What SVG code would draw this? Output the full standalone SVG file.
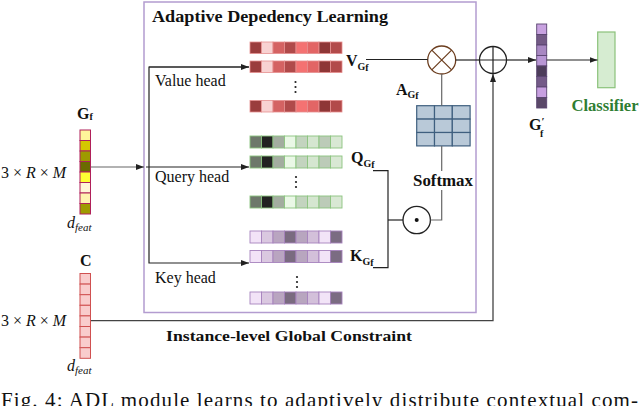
<svg xmlns="http://www.w3.org/2000/svg" width="640" height="406" viewBox="0 0 640 406" font-family="'Liberation Serif','Times New Roman',serif">
<style>
text{font-family:"Liberation Serif","Times New Roman",serif;fill:#111}
.b{font-weight:bold}
.l16{font-size:16px}
.sub{font-size:10px;font-weight:bold}
.it{font-style:italic}
.ln{fill:none;stroke:#222;stroke-width:1.2}
.gl{fill:none;stroke:#666;stroke-width:1.2}
.dot{fill:#222}
</style>
<defs>
<marker id="ar" viewBox="0 0 8 6" refX="8" refY="3" markerWidth="8" markerHeight="6" orient="auto" markerUnits="userSpaceOnUse"><path d="M0,0 L8,3 L0,6 z" fill="#222"/></marker>
<g id="vbar" stroke="#e58f8f" stroke-width="0.8">
<rect x="0" y="0" width="11.5" height="11.5" fill="#9a3d3d"/>
<rect x="11.5" y="0" width="11.5" height="11.5" fill="#f8d2d2"/>
<rect x="23" y="0" width="11.5" height="11.5" fill="#d46262"/>
<rect x="34.5" y="0" width="11.5" height="11.5" fill="#b04a4a"/>
<rect x="46" y="0" width="11.5" height="11.5" fill="#f47272"/>
<rect x="57.5" y="0" width="11.5" height="11.5" fill="#e26565"/>
<rect x="69" y="0" width="11.5" height="11.5" fill="#8e3636"/>
<rect x="80.5" y="0" width="11.5" height="11.5" fill="#b24a4a"/>
</g>
<g id="qbar" stroke="#8cc47f" stroke-width="0.9">
<rect x="0" y="0" width="11.5" height="12" fill="#6e786b"/>
<rect x="11.5" y="0" width="11.5" height="12" fill="#222222"/>
<rect x="23" y="0" width="11.5" height="12" fill="#a3ada0"/>
<rect x="34.5" y="0" width="11.5" height="12" fill="#eaf8e6"/>
<rect x="46" y="0" width="11.5" height="12" fill="#c3d4bf"/>
<rect x="57.5" y="0" width="11.5" height="12" fill="#d5e6d0"/>
<rect x="69" y="0" width="11.5" height="12" fill="#bccbb8"/>
<rect x="80.5" y="0" width="11.5" height="12" fill="#d9e8d4"/>
</g>
<g id="kbar" stroke="#a683bd" stroke-width="0.9">
<rect x="0" y="0" width="11.5" height="12" fill="#f2e3f7"/>
<rect x="11.5" y="0" width="11.5" height="12" fill="#dac8e0"/>
<rect x="23" y="0" width="11.5" height="12" fill="#b9a5c0"/>
<rect x="34.5" y="0" width="11.5" height="12" fill="#7a6b80"/>
<rect x="46" y="0" width="11.5" height="12" fill="#b8a6bf"/>
<rect x="57.5" y="0" width="11.5" height="12" fill="#d3c0da"/>
<rect x="69" y="0" width="11.5" height="12" fill="#f2e4f7"/>
<rect x="80.5" y="0" width="11.5" height="12" fill="#7b6c82"/>
</g>
<g id="vdots" class="dot"><circle cx="0" cy="0" r="1.1"/><circle cx="0" cy="5" r="1.1"/><circle cx="0" cy="10" r="1.1"/></g>
</defs>

<rect width="640" height="406" fill="#ffffff"/>

<!-- ADL module box -->
<g id="adl-box">
<rect x="144" y="2" width="332" height="310.5" fill="none" stroke="#b39cd0" stroke-width="1.5"/>
<text x="152" y="22" class="b" font-size="16" textLength="236" lengthAdjust="spacingAndGlyphs">Adaptive Depedency Learning</text>
</g>

<!-- Input G_f -->
<g id="node-Gf">
<text x="77" y="119" class="b l16">G<tspan class="sub" font-size="11" dy="1">f</tspan></text>
<g stroke="#b0205a" stroke-width="1">
<rect x="80" y="130" width="10.5" height="10.5" fill="#fff59a"/>
<rect x="80" y="140.5" width="10.5" height="10.5" fill="#d4c800"/>
<rect x="80" y="151" width="10.5" height="10.5" fill="#9e9a00"/>
<rect x="80" y="161.5" width="10.5" height="10.5" fill="#6b6b00"/>
<rect x="80" y="172" width="10.5" height="10.5" fill="#ffff33"/>
<rect x="80" y="182.5" width="10.5" height="10.5" fill="#fff5d8"/>
<rect x="80" y="193" width="10.5" height="10.5" fill="#fff2b0"/>
<rect x="80" y="203.5" width="10.5" height="10.5" fill="#9e9b00"/>
</g>
<text x="1" y="178" class="l16">3 × <tspan class="it">R</tspan> × <tspan class="it">M</tspan></text>
<text x="67" y="228" class="l16 it">d<tspan font-size="11" dy="3">feat</tspan></text>
</g>

<!-- Input C -->
<g id="node-C">
<text x="80" y="266" class="b l16">C</text>
<g stroke="#d05050" stroke-width="1" fill="#f9cccc">
<rect x="80" y="273.5" width="10.5" height="10.6"/>
<rect x="80" y="284.1" width="10.5" height="10.6"/>
<rect x="80" y="294.7" width="10.5" height="10.6"/>
<rect x="80" y="305.3" width="10.5" height="10.6"/>
<rect x="80" y="315.9" width="10.5" height="10.6"/>
<rect x="80" y="326.5" width="10.5" height="10.6"/>
<rect x="80" y="337.1" width="10.5" height="10.6"/>
<rect x="80" y="347.7" width="10.5" height="10.6"/>
</g>
<text x="1" y="326" class="l16">3 × <tspan class="it">R</tspan> × <tspan class="it">M</tspan></text>
<text x="67" y="371" class="l16 it">d<tspan font-size="11" dy="3">feat</tspan></text>
</g>

<!-- Value head -->
<g id="node-value">
<use href="#vbar" x="250" y="42"/>
<use href="#vbar" x="250" y="61"/>
<use href="#vdots" x="295.5" y="82"/>
<use href="#vbar" x="250" y="100.5"/>
<text x="155" y="86" class="l16">Value head</text>
<text x="346" y="66" class="b l16">V<tspan class="sub" dy="4">G</tspan><tspan class="sub" font-size="7" dy="1">f</tspan></text>
</g>

<!-- Query head -->
<g id="node-query">
<use href="#qbar" x="250" y="136"/>
<use href="#qbar" x="250" y="156"/>
<use href="#vdots" x="296" y="177"/>
<use href="#qbar" x="250" y="196"/>
<text x="155" y="182" class="l16">Query head</text>
<text x="351" y="163" class="b l16">Q<tspan class="sub" dy="4">G</tspan><tspan class="sub" font-size="7" dy="1">f</tspan></text>
</g>

<!-- Key head -->
<g id="node-key">
<use href="#kbar" x="250" y="231"/>
<use href="#kbar" x="250" y="250.5"/>
<use href="#vdots" x="297" y="277"/>
<use href="#kbar" x="250" y="292"/>
<text x="155" y="283" class="l16">Key head</text>
<text x="350" y="261" class="b l16">K<tspan class="sub" dy="4">G</tspan><tspan class="sub" font-size="7" dy="1">f</tspan></text>
</g>

<!-- Operators -->
<g id="node-mul">
<circle cx="441.7" cy="60" r="14" fill="#fff" stroke="#6b3d1e" stroke-width="1.3"/>
<path d="M431.8,50.1 L451.6,69.9 M451.6,50.1 L431.8,69.9" stroke="#6b3d1e" stroke-width="1.2"/>
</g>
<g id="node-add">
<circle cx="493" cy="60" r="13.5" fill="#fff" stroke="#222" stroke-width="1.3"/>
<path d="M479.5,60 H506.5 M493,46.5 V73.5" stroke="#222" stroke-width="1.2"/>
</g>
<g id="node-dot">
<circle cx="416.7" cy="220" r="13.7" fill="#fff" stroke="#222" stroke-width="1.3"/>
<circle cx="416.7" cy="220" r="2" fill="#111"/>
</g>

<!-- Attention matrix -->
<g id="node-A">
<g fill="#b9c9d8" stroke="#3f5f7f" stroke-width="1.2">
<rect x="416.7" y="105.7" width="17.8" height="13.4"/>
<rect x="434.5" y="105.7" width="17.8" height="13.4"/>
<rect x="452.3" y="105.7" width="17.8" height="13.4"/>
<rect x="416.7" y="119.1" width="17.8" height="13.4"/>
<rect x="434.5" y="119.1" width="17.8" height="13.4"/>
<rect x="452.3" y="119.1" width="17.8" height="13.4"/>
<rect x="416.7" y="132.5" width="17.8" height="13.4"/>
<rect x="434.5" y="132.5" width="17.8" height="13.4"/>
<rect x="452.3" y="132.5" width="17.8" height="13.4"/>
</g>
<text x="396" y="95" class="b l16">A<tspan class="sub" dy="3">G</tspan><tspan class="sub" font-size="7" dy="1">f</tspan></text>
</g>

<g id="node-softmax">
<text x="443" y="186" class="b l16" text-anchor="middle" textLength="60" lengthAdjust="spacingAndGlyphs">Softmax</text>
</g>

<!-- Output G'_f -->
<g id="node-Gf-out">
<g stroke="#5a4570" stroke-width="0.9">
<rect x="536.7" y="24" width="10" height="10.5" fill="#c8a2e0"/>
<rect x="536.7" y="34.5" width="10" height="10.5" fill="#735a85"/>
<rect x="536.7" y="45" width="10" height="10.5" fill="#a888c2"/>
<rect x="536.7" y="55.5" width="10" height="10.5" fill="#b896d4"/>
<rect x="536.7" y="66" width="10" height="10.5" fill="#4d3d5a"/>
<rect x="536.7" y="76.5" width="10" height="10.5" fill="#745a88"/>
<rect x="536.7" y="87" width="10" height="10.5" fill="#c79fe0"/>
<rect x="536.7" y="97.5" width="10" height="10.5" fill="#5a4868"/>
</g>
<text x="529" y="130" class="b l16">G<tspan font-size="11" dy="-5">′</tspan><tspan font-size="10" x="540" y="137">f</tspan></text>
</g>

<!-- Classifier -->
<g id="node-classifier">
<rect x="597.7" y="32" width="17.3" height="55.7" fill="#d6ecd1" stroke="#8bc27a" stroke-width="1.2"/>
<text x="605" y="111" class="b l16" text-anchor="middle" style="fill:#2e7d32" textLength="67" lengthAdjust="spacingAndGlyphs">Classifier</text>
</g>

<!-- Connectors -->
<g id="connectors">
<path class="gl" d="M91,167 H144" marker-end="url(#ar)"/>
<path class="ln" d="M146,167 H249" marker-end="url(#ar)"/>
<path class="ln" d="M249,67 H149 V263 H249" marker-end="url(#ar)"/>
<path class="ln" d="M149,67 H249" marker-end="url(#ar)"/>
<path class="ln" d="M366,59.5 H427.7"/>
<path class="ln" d="M455.7,60 H479.5"/>
<path class="ln" d="M506.5,60 H536" marker-end="url(#ar)"/>
<path class="ln" d="M546.7,60 H597.5" marker-end="url(#ar)"/>
<path class="gl" d="M441.7,74 V105.7"/>
<path class="gl" d="M441.7,146 V171"/>
<path class="gl" d="M441.7,190 V220 H430.4"/>
<path class="ln" d="M373,170.7 H388 V267.7 H373"/>
<path class="ln" d="M388,220 H403"/>
<path fill="none" stroke="#444" stroke-width="1.3" d="M91,320.7 H493 V74" marker-end="url(#ar)"/>
<text x="166" y="341" class="b" font-size="15" textLength="246" lengthAdjust="spacingAndGlyphs">Instance-level Global Constraint</text>
</g>

<text x="1" y="407" font-size="21" textLength="637" lengthAdjust="spacing">Fig. 4: ADL module learns to adaptively distribute contextual com-</text>
</svg>
